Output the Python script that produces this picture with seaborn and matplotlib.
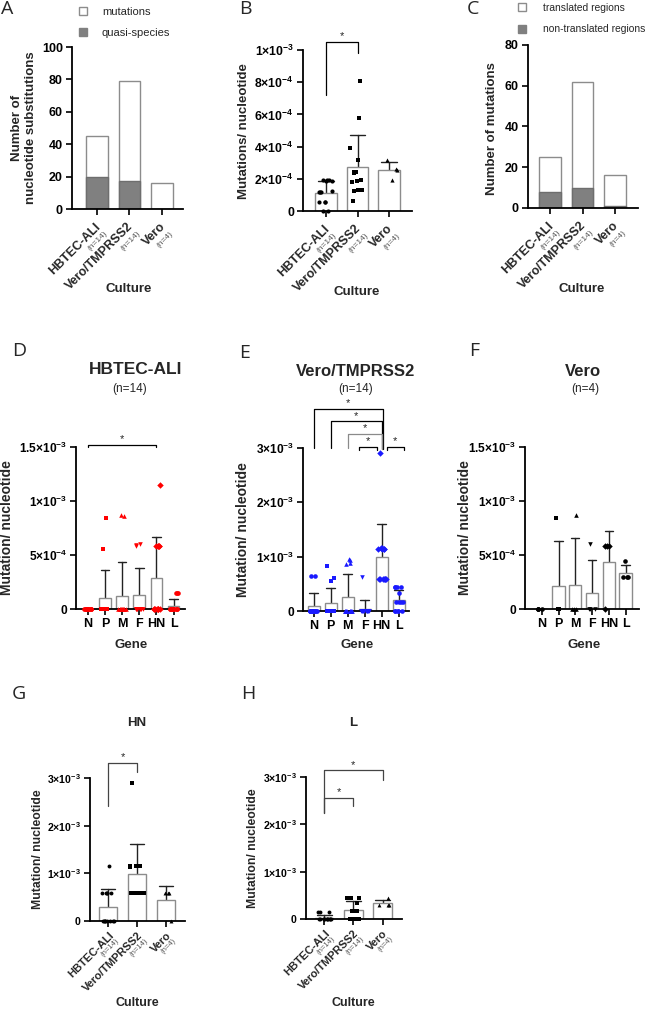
import numpy as np
import pandas as pd
import matplotlib

matplotlib.use("Agg")
import matplotlib.pyplot as plt
import seaborn as sns
from matplotlib.lines import Line2D

# ---- data -----------------------------------------------------------------
CULTURES = ["HBTEC-ALI", "Vero/TMPRSS2", "Vero"]
CULTURE_N = ["(n=14)", "(n=14)", "(n=4)"]
GENES = ["N", "P", "M", "F", "HN", "L"]

SUBST_TOTAL = [45, 79, 16]
SUBST_QUASI = [20, 17, 0]
MUT_TRANSLATED = [25, 62, 16]
MUT_NONTRANSLATED = [8, 10, 1]

# mutations per nucleotide, whole genome, one value per sample
RATE_HBTEC = [1.95e-4, 1.92e-4, 1.9e-4, 1.88e-4, 1.85e-4, 1.22e-4, 1.2e-4,
              1.18e-4, 1.15e-4, 0.58e-4, 0.56e-4, 0.55e-4, 0.0, 0.0]
RATE_VERO_T2 = [8.05e-4, 5.8e-4, 3.9e-4, 3.15e-4, 2.45e-4, 2.4e-4, 2.35e-4,
                1.9e-4, 1.85e-4, 1.8e-4, 1.3e-4, 1.3e-4, 1.25e-4, 0.6e-4]
RATE_VERO = [3.15e-4, 2.6e-4, 2.55e-4, 1.9e-4]

# mutations per nucleotide, per gene
HBTEC_BY_GENE = {
    "N": [0, 0, 0, 0, 0, 0, 0, 0, 0, 0, 0, 0, 0, 0],
    "P": [8.4e-4, 5.55e-4, 0, 0, 0, 0, 0, 0, 0, 0, 0, 0, 0, 0],
    "M": [8.75e-4, 8.6e-4, 0, 0, 0, 0, 0, 0, 0, 0, 0, 0, 0, 0],
    "F": [6.0e-4, 5.95e-4, 5.85e-4, 0, 0, 0, 0, 0, 0, 0, 0, 0, 0, 0],
    "HN": [1.15e-3, 5.8e-4, 5.8e-4, 5.8e-4, 5.8e-4, 5.8e-4, 0, 0, 0, 0, 0, 0, 0, 0],
    "L": [1.5e-4, 1.48e-4, 1.45e-4, 0, 0, 0, 0, 0, 0, 0, 0, 0, 0, 0],
}
VERO_T2_BY_GENE = {
    "N": [6.5e-4, 6.45e-4, 0, 0, 0, 0, 0, 0, 0, 0, 0, 0, 0, 0],
    "P": [8.3e-4, 6.0e-4, 5.6e-4, 0, 0, 0, 0, 0, 0, 0, 0, 0, 0, 0],
    "M": [9.5e-4, 9.3e-4, 8.8e-4, 8.7e-4, 0, 0, 0, 0, 0, 0, 0, 0, 0, 0],
    "F": [6.2e-4, 0, 0, 0, 0, 0, 0, 0, 0, 0, 0, 0, 0, 0],
    "HN": [2.9e-3, 1.16e-3, 1.16e-3, 1.15e-3, 1.15e-3, 1.15e-3, 1.14e-3,
           5.8e-4, 5.8e-4, 5.8e-4, 5.8e-4, 5.8e-4, 5.8e-4, 5.8e-4],
    "L": [4.4e-4, 4.4e-4, 4.4e-4, 4.4e-4, 3.4e-4, 1.6e-4, 1.6e-4, 1.6e-4,
          1.6e-4, 0, 0, 0, 0, 0],
}
VERO_BY_GENE = {
    "N": [0, 0, 0, 0],
    "P": [8.4e-4, 0, 0, 0],
    "M": [8.75e-4, 0, 0, 0],
    "F": [6.0e-4, 0, 0, 0],
    "HN": [5.8e-4, 5.8e-4, 5.8e-4, 0],
    "L": [4.4e-4, 3.0e-4, 3.0e-4, 3.0e-4],
}

A_YTICKS = [0, 20, 40, 60, 80, 100]
C_YTICKS = [0, 20, 40, 60, 80]
B_YTICKS = [0, 2e-4, 4e-4, 6e-4, 8e-4, 1e-3]
B_YTICKLABELS = ["0", r"$\mathbf{2{\times}10^{-4}}$", r"$\mathbf{4{\times}10^{-4}}$",
                 r"$\mathbf{6{\times}10^{-4}}$", r"$\mathbf{8{\times}10^{-4}}$",
                 r"$\mathbf{1{\times}10^{-3}}$"]
HALF_YTICKS = [0, 5e-4, 1e-3, 1.5e-3]
HALF_YTICKLABELS = ["0", r"$\mathbf{5{\times}10^{-4}}$", r"$\mathbf{1{\times}10^{-3}}$",
                    r"$\mathbf{1.5{\times}10^{-3}}$"]
THREE_YTICKS = [0, 1e-3, 2e-3, 3e-3]
THREE_YTICKLABELS = ["0", r"$\mathbf{1{\times}10^{-3}}$", r"$\mathbf{2{\times}10^{-3}}$",
                     r"$\mathbf{3{\times}10^{-3}}$"]

# ---- style ----------------------------------------------------------------
W, H = 652, 1009
EDGE = "#8c8c8c"
DARK = "#808080"
ERRC = "#222222"

sns.set_theme(style="ticks")
plt.rcParams["font.family"] = ["Liberation Sans", "DejaVu Sans"]
plt.rcParams.update({
    "mathtext.fontset": "custom",
    "mathtext.rm": "Liberation Sans",
    "mathtext.bf": "Liberation Sans:bold",
    "mathtext.it": "Liberation Sans:italic",
})
np.random.seed(3)

fig = plt.figure(figsize=(W / 100, H / 100), dpi=100)


def px_axes(left, top, right, bottom):
    return fig.add_axes([left / W, 1 - bottom / H, (right - left) / W, (bottom - top) / H])


def ftext(x, y, s, **kw):
    return fig.text(x / W, 1 - y / H, s, **kw)


def style_axes(ax, yticks, yticklabels, ysize):
    sns.despine(ax=ax)
    for side in ("left", "bottom"):
        ax.spines[side].set_linewidth(1.3)
        ax.spines[side].set_color("black")
    ax.tick_params(direction="out", length=4, width=1.2, colors="black", pad=2.5)
    ax.set_yticks(yticks)
    ax.set_yticklabels(yticklabels, fontsize=ysize, fontweight="bold")
    ax.set_xlabel("")
    ax.set_ylabel("")


def culture_ticklabels(ax, main_fs, n_fs, main_off, n_off):
    ax.set_xticks(range(len(CULTURES)))
    ax.set_xticklabels([])
    for i, (name, n) in enumerate(zip(CULTURES, CULTURE_N)):
        ax.annotate(name, xy=(i, 0), xycoords=("data", "axes fraction"), xytext=main_off,
                    textcoords="offset points", rotation=45, rotation_mode="anchor",
                    ha="right", va="center", fontsize=main_fs, fontweight="bold",
                    annotation_clip=False)
        ax.annotate(n, xy=(i, 0), xycoords=("data", "axes fraction"), xytext=n_off,
                    textcoords="offset points", rotation=45, rotation_mode="anchor",
                    ha="right", va="center", fontsize=n_fs, color="#555555",
                    annotation_clip=False)


def bar_with_points(ax, df, cat, order, markers, color, width, size):
    sns.barplot(data=df, x=cat, y="rate", order=order, errorbar="sd", capsize=0.5,
                width=width, color="white", edgecolor=EDGE, linewidth=1.0, saturation=1,
                err_kws={"color": ERRC, "linewidth": 1.0, "zorder": 0.9}, ax=ax)
    for g, m in zip(order, markers):
        sns.stripplot(data=df[df[cat] == g], x=cat, y="rate", order=order, marker=m,
                      color=color, size=size, jitter=0.25, linewidth=0, zorder=3,
                      clip_on=False, legend=False, ax=ax)


def bracket(ax, x1, x2, y, y1, y2, color="black"):
    ax.plot([x1, x1, x2, x2], [y1, y, y, y2], color=color, lw=0.9, clip_on=False, zorder=4)
    ax.annotate("*", xy=((x1 + x2) / 2, y), xytext=(0, 0.5), textcoords="offset points",
                ha="center", va="bottom", fontsize=8, annotation_clip=False)


def gene_df(by_gene):
    return pd.DataFrame([(g, v) for g in GENES for v in by_gene[g]], columns=["gene", "rate"])


def culture_df(values_list):
    return pd.DataFrame([(c, v) for c, vals in zip(CULTURES, values_list) for v in vals],
                        columns=["culture", "rate"])


LETTER_KW = dict(fontsize=14, family=["Open Sans", "DejaVu Sans"], va="top", ha="left")
YLAB_KW = dict(rotation=90, ha="center", va="center", fontweight="bold")


def square_legend(ax, labels, left_px, top_px, textpad, spacing, fs):
    ax.legend(handles=[
        Line2D([], [], marker="s", ls="none", markersize=6, markerfacecolor="white",
               markeredgecolor=EDGE),
        Line2D([], [], marker="s", ls="none", markersize=6, markerfacecolor=DARK,
               markeredgecolor=DARK)],
        labels=labels, loc="upper left",
        bbox_to_anchor=(left_px / W, 1 - top_px / H), bbox_transform=fig.transFigure,
        frameon=False, fontsize=fs, handlelength=1.0, handletextpad=textpad,
        labelspacing=spacing, borderpad=0, borderaxespad=0)


# ---- A ----------------------------------------------------------------------
axA = px_axes(72, 47, 183, 209)
sns.barplot(x=CULTURES, y=SUBST_TOTAL, order=CULTURES, errorbar=None, color="white",
            edgecolor=EDGE, linewidth=1.0, width=0.66, saturation=1, ax=axA)
sns.barplot(x=CULTURES, y=SUBST_QUASI, order=CULTURES, errorbar=None, color=DARK,
            edgecolor="#6e6e6e", linewidth=1.0, width=0.66, saturation=1, ax=axA)
axA.set_xlim(-0.77, 2.65)
axA.set_ylim(0, 100)
style_axes(axA, A_YTICKS, [str(t) for t in A_YTICKS], 9)
culture_ticklabels(axA, 9, 6, (1.5, -11.5), (7, -17))
square_legend(axA, ["mutations", "quasi-species"], 77.5, 7, 1.2, 0.95, 8)
ftext(24, 128, "Number of\nnucleotide substitutions", fontsize=9.5, linespacing=1.15, **YLAB_KW)
ftext(129, 289, "Culture", fontsize=9.5, fontweight="bold", ha="center", va="center")
ftext(1, 0, "A", **LETTER_KW)

# ---- B ----------------------------------------------------------------------
axB = px_axes(303, 50, 412, 211)
bar_with_points(axB, culture_df([RATE_HBTEC, RATE_VERO_T2, RATE_VERO]), "culture", CULTURES,
                ["o", "s", "^"], "black", 0.67, 3)
axB.set_xlim(-0.73, 2.73)
axB.set_ylim(0, 1e-3)
style_axes(axB, B_YTICKS, B_YTICKLABELS, 8.8)
culture_ticklabels(axB, 9, 6, (1.5, -11.5), (7, -17))
bracket(axB, 0, 1, 1.048e-3, 0.72e-3, 0.98e-3)
ftext(244, 131, "Mutations/ nucleotide", fontsize=9.5, **YLAB_KW)
ftext(357, 292, "Culture", fontsize=9.5, fontweight="bold", ha="center", va="center")
ftext(239, 0, "B", **LETTER_KW)

# ---- C ----------------------------------------------------------------------
axC = px_axes(528, 45, 638, 208)
sns.barplot(x=CULTURES, y=MUT_TRANSLATED, order=CULTURES, errorbar=None, color="white",
            edgecolor=EDGE, linewidth=1.0, width=0.67, saturation=1, ax=axC)
sns.barplot(x=CULTURES, y=MUT_NONTRANSLATED, order=CULTURES, errorbar=None, color=DARK,
            edgecolor="#6e6e6e", linewidth=1.0, width=0.67, saturation=1, ax=axC)
axC.set_xlim(-0.68, 2.71)
axC.set_ylim(0, 80)
style_axes(axC, C_YTICKS, [str(t) for t in C_YTICKS], 9)
culture_ticklabels(axC, 9, 6, (1.5, -11.5), (7, -17))
square_legend(axC, ["translated regions", "non-translated regions"], 517, 3, 1.55, 1.1, 7.4)
ftext(492, 129, "Number of mutations", fontsize=9.5, **YLAB_KW)
ftext(582, 289, "Culture", fontsize=9.5, fontweight="bold", ha="center", va="center")
ftext(467, 0, "C", **LETTER_KW)

# ---- D / E / F ---------------------------------------------------------------
GENE_MARKERS = ["o", "s", "^", "v", "D", "o"]
gene_panels = [
    (HBTEC_BY_GENE, "red", (76, 447, 185, 609), (-0.69, 5.67), 1.5e-3,
     HALF_YTICKS, HALF_YTICKLABELS, 0.68),
    (VERO_T2_BY_GENE, "#1a1aff", (303, 448, 409, 611), (-0.62, 5.61), 3e-3,
     THREE_YTICKS, THREE_YTICKLABELS, 0.7),
    (VERO_BY_GENE, "black", (525, 447, 639, 609), (-1.0, 5.8), 1.5e-3,
     HALF_YTICKS, HALF_YTICKLABELS, 0.74),
]
gene_axes = []
for by_gene, color, box, xlim, ytop, yt, ytl, width in gene_panels:
    ax = px_axes(*box)
    bar_with_points(ax, gene_df(by_gene), "gene", GENES, GENE_MARKERS, color, width, 3.3)
    ax.set_xlim(*xlim)
    ax.set_ylim(0, ytop)
    style_axes(ax, yt, ytl, 8.6)
    ax.set_xticks(range(len(GENES)))
    ax.set_xticklabels(GENES, fontsize=9, fontweight="bold")
    gene_axes.append(ax)
axD, axE, axF = gene_axes

bracket(axD, 0, 4, 1.52e-3, 1.5e-3, 1.5e-3)
bracket(axE, 0, 4.06, 3.72e-3, 3.0e-3, 2.98e-3)
bracket(axE, 1.0, 4.03, 3.49e-3, 3.0e-3, 2.98e-3)
bracket(axE, 2.0, 4.0, 3.26e-3, 3.0e-3, 2.98e-3, color="#8a8a8a")
bracket(axE, 2.7, 3.7, 3.02e-3, 2.97e-3, 2.97e-3)
bracket(axE, 4.3, 5.3, 3.02e-3, 2.97e-3, 2.97e-3)

ftext(136, 370, "HBTEC-ALI", fontsize=12.5, fontweight="bold", ha="center", va="center")
ftext(130, 389, "(n=14)", fontsize=8.5, ha="center", va="center")
ftext(356, 371, "Vero/TMPRSS2", fontsize=12, fontweight="bold", ha="center", va="center")
ftext(356, 389, "(n=14)", fontsize=8.5, ha="center", va="center")
ftext(583, 371, "Vero", fontsize=12, fontweight="bold", ha="center", va="center")
ftext(585, 389, "(n=4)", fontsize=8.5, ha="center", va="center")
ftext(7, 528, "Mutation/ nucleotide", fontsize=10, **YLAB_KW)
ftext(243, 530, "Mutation/ nucleotide", fontsize=10, **YLAB_KW)
ftext(465, 528, "Mutation/ nucleotide", fontsize=10, **YLAB_KW)
for gx in (131, 357, 584):
    ftext(gx, 645, "Gene", fontsize=9.5, fontweight="bold", ha="center", va="center")
ftext(12, 342, "D", **LETTER_KW)
ftext(239, 344, "E", **LETTER_KW)
ftext(469, 342, "F", **LETTER_KW)

# ---- G / H ---------------------------------------------------------------------
axG = px_axes(90, 778, 185, 921)
bar_with_points(axG, culture_df([HBTEC_BY_GENE["HN"], VERO_T2_BY_GENE["HN"], VERO_BY_GENE["HN"]]),
                "culture", CULTURES, ["o", "s", "^"], "black", 0.63, 2.8)
axH = px_axes(306, 777, 402, 919)
bar_with_points(axH, culture_df([HBTEC_BY_GENE["L"], VERO_T2_BY_GENE["L"], VERO_BY_GENE["L"]]),
                "culture", CULTURES, ["o", "s", "^"], "black", 0.63, 2.8)
for ax in (axG, axH):
    ax.set_xlim(-0.63, 2.67)
    ax.set_ylim(0, 3e-3)
    style_axes(ax, THREE_YTICKS, THREE_YTICKLABELS, 7.6)
    culture_ticklabels(ax, 8, 5.5, (2.7, -9), (6.8, -13.2))

bracket(axG, 0, 1, 3.32e-3, 2.41e-3, 3.12e-3, color="#444444")
bracket(axH, 0, 2, 3.14e-3, 2.23e-3, 2.93e-3, color="#444444")
bracket(axH, 0, 1, 2.56e-3, 2.23e-3, 2.38e-3, color="#444444")

ftext(137, 723, "HN", fontsize=9.5, fontweight="bold", ha="center", va="center")
ftext(353, 723, "L", fontsize=9.5, fontweight="bold", ha="center", va="center")
ftext(38, 849, "Mutation/ nucleotide", fontsize=8.8, **YLAB_KW)
ftext(253, 848, "Mutation/ nucleotide", fontsize=8.8, **YLAB_KW)
ftext(137, 1003, "Culture", fontsize=9, fontweight="bold", ha="center", va="center")
ftext(353, 1003, "Culture", fontsize=9, fontweight="bold", ha="center", va="center")
ftext(12, 685, "G", **LETTER_KW)
ftext(241, 685, "H", **LETTER_KW)

fig.savefig("out.png", dpi=100)
plt.close(fig)
